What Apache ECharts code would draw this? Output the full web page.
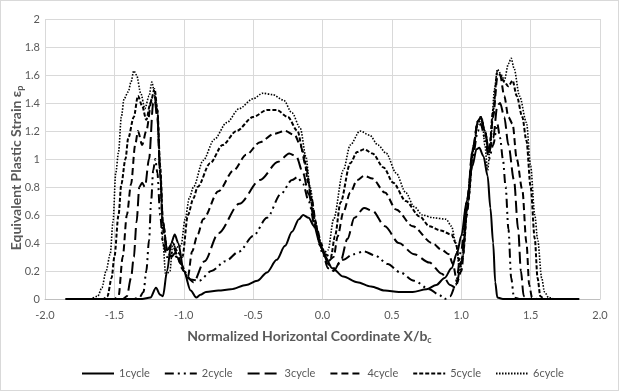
<!DOCTYPE html>
<html>
<head>
<meta charset="utf-8">
<script src="https://cdn.jsdelivr.net/npm/echarts@6/dist/echarts.min.js"></script>
<style>
  body { margin: 0; background: #fff; }
  #main { width: 619px; height: 391px; box-sizing: border-box; border: 1px solid #d9d9d9; }
</style>
</head>
<body>
<div id="main"></div>
<script>
// x ticks and names
var xTicks = [-2.0, -1.5, -1.0, -0.5, 0.0, 0.5, 1.0, 1.5, 2.0];
var seriesNames = ['1cycle', '2cycle', '3cycle', '4cycle', '5cycle', '6cycle'];

// [X/bc, strain] pairs
var cycle1 = [[-1.85,0],[-1.3,0],[-1.24,0.01],[-1.2,0.08],[-1.17,0.03],[-1.15,0.02],[-1.12,0.2],[-1.09,0.4],[-1.065,0.46],[-1.04,0.4],[-1.0,0.2],[-0.95,0.06],[-0.91,0.01],[-0.88,0.03],[-0.84,0.05],[-0.75,0.06],[-0.66,0.07],[-0.55,0.1],[-0.47,0.13],[-0.4,0.19],[-0.33,0.28],[-0.27,0.38],[-0.22,0.48],[-0.17,0.57],[-0.14,0.6],[-0.1,0.58],[-0.06,0.52],[-0.02,0.4],[0.02,0.3],[0.07,0.22],[0.15,0.16],[0.25,0.12],[0.35,0.09],[0.45,0.06],[0.55,0.05],[0.65,0.05],[0.75,0.07],[0.82,0.1],[0.88,0.15],[0.93,0.22],[0.97,0.33],[1.0,0.45],[1.04,0.7],[1.08,0.95],[1.11,1.07],[1.13,1.08],[1.16,1.02],[1.19,0.88],[1.21,0.65],[1.23,0.4],[1.245,0.12],[1.26,0.01],[1.3,0],[1.85,0]];
var cycle2 = [[-1.85,0],[-1.36,0],[-1.32,0.01],[-1.29,0.05],[-1.27,0.2],[-1.25,0.42],[-1.235,0.7],[-1.22,0.92],[-1.205,1.0],[-1.19,0.9],[-1.17,0.6],[-1.15,0.4],[-1.12,0.3],[-1.08,0.33],[-1.05,0.3],[-1.0,0.2],[-0.95,0.14],[-0.89,0.13],[-0.8,0.2],[-0.7,0.27],[-0.6,0.34],[-0.5,0.45],[-0.4,0.58],[-0.3,0.75],[-0.22,0.85],[-0.18,0.87],[-0.14,0.82],[-0.1,0.7],[-0.05,0.5],[0.0,0.33],[0.04,0.22],[0.08,0.22],[0.15,0.28],[0.22,0.32],[0.3,0.34],[0.38,0.31],[0.47,0.25],[0.56,0.19],[0.66,0.13],[0.77,0.07],[0.84,0.03],[0.88,0.0],[0.92,0.02],[0.96,0.1],[1.0,0.35],[1.04,0.7],[1.08,1.0],[1.12,1.2],[1.14,1.25],[1.17,1.15],[1.2,1.0],[1.23,1.1],[1.26,1.25],[1.28,1.15],[1.3,1.0],[1.32,0.8],[1.34,0.5],[1.36,0.15],[1.38,0.01],[1.42,0],[1.85,0]];
var cycle3 = [[-1.85,0],[-1.44,0],[-1.41,0.02],[-1.38,0.15],[-1.36,0.3],[-1.34,0.55],[-1.32,0.8],[-1.3,0.83],[-1.28,0.8],[-1.25,1.0],[-1.22,1.4],[-1.21,1.42],[-1.19,1.3],[-1.17,0.9],[-1.15,0.55],[-1.12,0.35],[-1.09,0.3],[-1.06,0.33],[-1.02,0.25],[-0.97,0.15],[-0.93,0.12],[-0.85,0.27],[-0.75,0.47],[-0.6,0.68],[-0.45,0.85],[-0.32,0.98],[-0.24,1.04],[-0.19,1.02],[-0.14,0.9],[-0.1,0.75],[-0.05,0.52],[0.0,0.35],[0.04,0.25],[0.08,0.2],[0.13,0.27],[0.18,0.43],[0.23,0.58],[0.3,0.65],[0.36,0.63],[0.45,0.52],[0.55,0.4],[0.66,0.32],[0.77,0.26],[0.86,0.18],[0.92,0.1],[0.96,0.08],[1.0,0.25],[1.04,0.65],[1.08,1.05],[1.12,1.27],[1.14,1.3],[1.17,1.2],[1.2,1.05],[1.23,1.15],[1.26,1.38],[1.28,1.4],[1.31,1.3],[1.34,1.1],[1.38,0.85],[1.41,0.5],[1.43,0.2],[1.45,0.02],[1.5,0],[1.85,0]];
var cycle4 = [[-1.85,0],[-1.5,0],[-1.47,0.02],[-1.44,0.3],[-1.41,0.6],[-1.38,0.82],[-1.35,1.1],[-1.33,1.2],[-1.3,1.1],[-1.27,1.2],[-1.23,1.43],[-1.21,1.45],[-1.19,1.3],[-1.17,0.9],[-1.15,0.5],[-1.12,0.35],[-1.08,0.38],[-1.04,0.3],[-1.0,0.2],[-0.97,0.16],[-0.94,0.34],[-0.9,0.46],[-0.86,0.57],[-0.75,0.77],[-0.64,0.92],[-0.55,1.03],[-0.45,1.12],[-0.35,1.18],[-0.27,1.2],[-0.2,1.17],[-0.16,1.1],[-0.12,0.95],[-0.08,0.72],[-0.04,0.5],[0.0,0.35],[0.04,0.27],[0.08,0.3],[0.11,0.45],[0.15,0.62],[0.2,0.76],[0.25,0.85],[0.3,0.88],[0.36,0.86],[0.45,0.76],[0.53,0.64],[0.65,0.52],[0.79,0.4],[0.86,0.35],[0.91,0.32],[0.94,0.25],[0.97,0.12],[1.0,0.2],[1.04,0.6],[1.08,1.05],[1.12,1.27],[1.14,1.3],[1.17,1.2],[1.2,1.05],[1.23,1.3],[1.26,1.58],[1.28,1.6],[1.31,1.45],[1.34,1.3],[1.37,1.25],[1.4,1.0],[1.44,0.78],[1.47,0.4],[1.49,0.1],[1.51,0.01],[1.55,0],[1.85,0]];
var cycle5 = [[-1.85,0],[-1.58,0],[-1.55,0.02],[-1.52,0.15],[-1.5,0.3],[-1.47,0.6],[-1.45,0.82],[-1.42,1.0],[-1.4,1.15],[-1.36,1.3],[-1.33,1.45],[-1.3,1.38],[-1.27,1.28],[-1.24,1.4],[-1.21,1.5],[-1.19,1.35],[-1.17,0.95],[-1.15,0.55],[-1.12,0.35],[-1.08,0.4],[-1.04,0.33],[-1.01,0.3],[-0.97,0.6],[-0.93,0.72],[-0.9,0.8],[-0.81,0.97],[-0.72,1.1],[-0.62,1.2],[-0.5,1.3],[-0.4,1.35],[-0.33,1.35],[-0.25,1.3],[-0.18,1.2],[-0.14,1.05],[-0.1,0.82],[-0.06,0.58],[-0.02,0.42],[0.02,0.32],[0.06,0.3],[0.09,0.45],[0.13,0.69],[0.2,0.97],[0.25,1.05],[0.3,1.07],[0.36,1.04],[0.44,0.94],[0.51,0.83],[0.6,0.7],[0.7,0.59],[0.77,0.52],[0.85,0.49],[0.93,0.46],[0.96,0.4],[0.99,0.25],[1.01,0.3],[1.05,0.7],[1.09,1.1],[1.12,1.27],[1.14,1.3],[1.17,1.2],[1.2,1.05],[1.23,1.35],[1.26,1.62],[1.28,1.6],[1.31,1.55],[1.34,1.52],[1.37,1.56],[1.4,1.45],[1.44,1.3],[1.47,1.13],[1.5,0.8],[1.53,0.43],[1.55,0.15],[1.57,0.02],[1.6,0],[1.85,0]];
var cycle6 = [[-1.85,0],[-1.68,0],[-1.62,0.02],[-1.59,0.08],[-1.56,0.2],[-1.53,0.32],[-1.51,0.55],[-1.49,0.9],[-1.47,1.05],[-1.45,1.3],[-1.43,1.43],[-1.4,1.48],[-1.38,1.55],[-1.36,1.63],[-1.34,1.6],[-1.31,1.47],[-1.28,1.36],[-1.25,1.45],[-1.23,1.55],[-1.21,1.47],[-1.19,1.35],[-1.17,0.9],[-1.15,0.4],[-1.13,0.17],[-1.1,0.2],[-1.08,0.38],[-1.05,0.37],[-1.02,0.38],[-0.99,0.57],[-0.96,0.72],[-0.93,0.8],[-0.86,0.99],[-0.78,1.14],[-0.69,1.26],[-0.6,1.36],[-0.5,1.43],[-0.43,1.47],[-0.36,1.46],[-0.28,1.42],[-0.22,1.33],[-0.16,1.22],[-0.12,1.02],[-0.09,0.8],[-0.05,0.55],[-0.02,0.38],[0.01,0.33],[0.04,0.35],[0.08,0.57],[0.15,0.92],[0.2,1.1],[0.27,1.2],[0.34,1.17],[0.4,1.1],[0.46,1.04],[0.53,0.9],[0.6,0.76],[0.66,0.66],[0.72,0.6],[0.8,0.58],[0.89,0.57],[0.93,0.52],[0.96,0.4],[0.99,0.2],[1.01,0.3],[1.05,0.7],[1.09,1.1],[1.12,1.25],[1.15,1.29],[1.17,1.1],[1.19,0.92],[1.21,1.1],[1.24,1.5],[1.26,1.64],[1.29,1.6],[1.31,1.56],[1.34,1.68],[1.36,1.72],[1.38,1.65],[1.42,1.45],[1.47,1.26],[1.5,0.95],[1.53,0.6],[1.55,0.43],[1.58,0.15],[1.6,0.05],[1.63,0.01],[1.68,0],[1.85,0]];

var allData = [cycle1, cycle2, cycle3, cycle4, cycle5, cycle6];
var dashes = ['solid', [9,4,2,4,2,4], [12,5], [7,4], [4,2], [1.5,1.5]];
var widths = [2, 2, 2, 2, 2, 1.6];

var font = 'Lato, "Open Sans", sans-serif';
var grey = '#595959';

var chart = echarts.init(document.getElementById('main'));

var series = allData.map(function(d, i){
  return {
    name: seriesNames[i],
    type: 'line',
    data: d,
    showSymbol: false,
    symbol: 'none',
    smooth: 0.3,
    smoothMonotone: 'x',
    z: 10 - i,
    lineStyle: { color: '#000', width: widths[i], type: dashes[i] },
    itemStyle: { color: '#000' }
  };
});

chart.setOption({
  animation: false,
  textStyle: { fontFamily: font },
  grid: { left: 44, right: 18, top: 18, bottom: 91 },
  xAxis: {
    type: 'value', min: -2, max: 2, interval: 0.5,
    axisLine: { lineStyle: { color: '#bfbfbf' } },
    axisTick: { show: false },
    axisLabel: { color: grey, fontSize: 11, margin: 11, formatter: function(v){ return v.toFixed(1); } },
    splitLine: { show: true, lineStyle: { color: '#d9d9d9' } }
  },
  yAxis: {
    type: 'value', min: 0, max: 2, interval: 0.2,
    axisLine: { show: false, onZero: true },
    axisTick: { show: false },
    axisLabel: { color: grey, fontSize: 11, margin: 5 },
    splitLine: { lineStyle: { color: '#d9d9d9' } }
  },
  legend: {
    bottom: 6, left: 75,
    itemWidth: 32, itemHeight: 10, itemGap: 14,
    itemStyle: { opacity: 0 },
    textStyle: { color: grey, fontSize: 11, fontFamily: font },
    data: seriesNames
  },
  graphic: [
    {
      type: 'text', left: 'center', top: 328,
      style: {
        text: '{a|Normalized Horizontal Coordinate X/b}{s|c}',
        rich: {
          a: { fontSize: 14, fontWeight: 'bold', fill: grey, fontFamily: font },
          s: { fontSize: 9, fontWeight: 'bold', fill: grey, fontFamily: font, padding: [8, 0, 0, 0] }
        }
      }
    },
    {
      type: 'text', x: 15, y: 167, rotation: Math.PI / 2,
      style: {
        text: '{a|Equivalent Plastic Strain ε}{s|p}',
        align: 'center', verticalAlign: 'middle',
        rich: {
          a: { fontSize: 14, fontWeight: 'bold', fill: grey, fontFamily: font },
          s: { fontSize: 9, fontWeight: 'bold', fill: grey, fontFamily: font, padding: [8, 0, 0, 0] }
        }
      }
    }
  ],
  series: series
});
</script>
</body>
</html>
